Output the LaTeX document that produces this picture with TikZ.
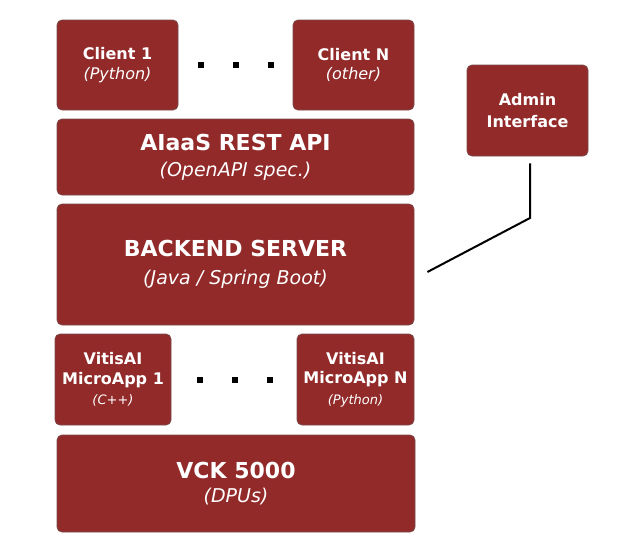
\documentclass[tikz,border=0pt]{standalone}
\usepackage{fontspec}
\setmainfont{DejaVu Sans}
\usepackage{tikz}
\definecolor{boxred}{HTML}{922A2A}
\definecolor{boxedge}{HTML}{7A4A4A}
\newcommand{\ttl}[2]{{\fontsize{#1}{#1}\selectfont\bfseries #2}}
\newcommand{\sub}[2]{{\fontsize{#1}{#1}\selectfont\itshape #2}}

\begin{document}
\begin{tikzpicture}[x=1pt,y=-1pt,
	blk/.style={draw=boxedge, line width=0.8pt, fill=boxred, rounded corners=5pt,
		text=white, align=center, inner sep=0pt},
	dot/.style={fill=black, minimum width=5.5pt, minimum height=6.5pt, inner sep=0pt}]
		\useasboundingbox[fill=white] (0,0) rectangle (625,555);

		% Clients
		\node[blk, minimum width=121pt, minimum height=90pt] (cl1) at (117.5,65)
			{\ttl{16}{Client 1}\\[6pt]\sub{16}{(Python)}};
		\node[blk, minimum width=121pt, minimum height=90pt] (cln) at (353.5,65)
			{\ttl{16}{Client N}\\[6pt]\sub{16}{(other)}};
		\foreach \x in {201,236,271}
			\node[dot] at (\x,65) {};

		% REST API and backend
		\node[blk, minimum width=357pt, minimum height=76pt] (api) at (235.5,157)
			{\ttl{22}{AIaaS REST API}\\[10pt]\sub{19}{(OpenAPI spec.)}};
		\node[blk, minimum width=357pt, minimum height=121pt] (backend) at (235.5,264.5)
			{\ttl{22}{BACKEND SERVER}\\[12pt]\sub{19}{(Java / Spring Boot)}};

		% Admin
		\node[blk, minimum width=121pt, minimum height=91pt] (admin) at (527.5,110.5)
			{\ttl{16}{Admin}\\[8pt]\ttl{16}{Interface}};
		\coordinate (bend) at (530,218);
		\draw[line width=2pt] ([shift={(2.5pt,-7pt)}]admin.south) -- (bend)
			-- ([shift={(13pt,-7.5pt)}]backend.east);

		% MicroApps
		\node[blk, minimum width=116pt, minimum height=91pt] (vit1) at (113,379.5)
			{\ttl{16}{VitisAI}\\[6pt]\ttl{16}{MicroApp 1}\\[6pt]\sub{13}{(C++)}};
		\node[blk, minimum width=117pt, minimum height=91pt] (vitn) at (355.5,379.5)
			{\ttl{16}{VitisAI}\\[6pt]\ttl{16}{MicroApp N}\\[6pt]\sub{13}{(Python)}};
		\foreach \x in {200,235,270}
			\node[dot] at (\x,380) {};

		% Board
		\node[blk, minimum width=358pt, minimum height=97pt] (vck) at (236,483.5)
			{\ttl{22}{VCK 5000}\\[9pt]\sub{19}{(DPUs)}};
	\end{tikzpicture}
\end{document}
